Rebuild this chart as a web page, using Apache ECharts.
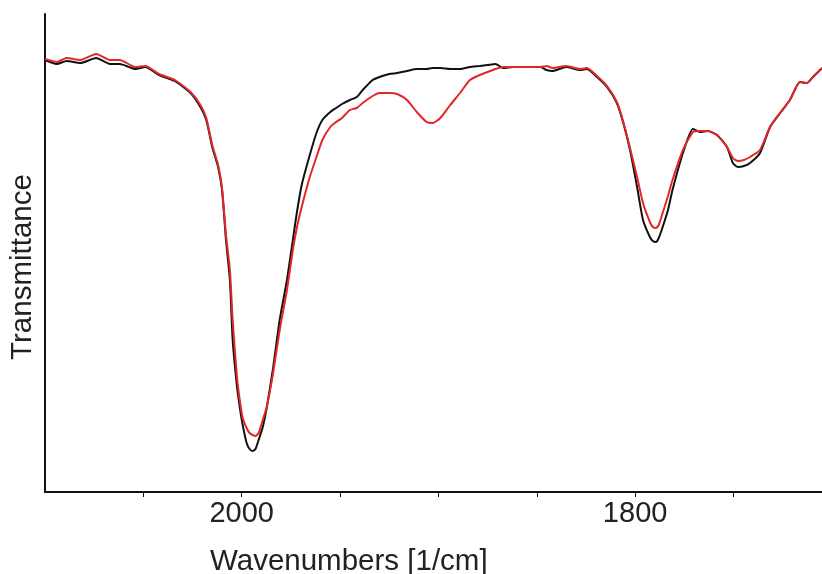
<!DOCTYPE html>
<html>
<head>
<meta charset="utf-8">
<style>
  html, body { margin: 0; padding: 0; background: #fff; }
  #chart { width: 822px; height: 574px; }
</style>
<script src="https://cdn.jsdelivr.net/npm/echarts@6/dist/echarts.min.js"></script>
</head>
<body>
<div id="chart"></div>
<script>
  // wavenumbers [1/cm]
  var wavenumbers = [2100, 2094, 2089, 2082, 2074, 2067, 2062, 2054, 2049, 2042, 2034, 2026, 2021, 2018, 2015, 2012, 2010, 2008, 2006, 2004.6, 2002.5, 2001, 1999.5, 1997.5, 1996, 1994.4, 1993, 1991.4, 1989.3, 1987.3, 1984.2, 1980.7, 1977, 1974, 1972, 1969.5, 1965.4, 1962, 1959, 1955, 1952, 1949, 1945, 1941.5, 1938.5, 1933.4, 1930, 1925, 1921, 1916, 1911, 1906, 1903, 1899, 1894, 1889, 1884, 1879, 1875, 1871, 1867, 1862, 1855, 1848, 1845, 1842, 1835, 1828, 1824.5, 1819.4, 1814.3, 1809.3, 1806, 1802.6, 1799, 1796, 1792.5, 1791, 1789.4, 1788, 1786, 1783.3, 1781, 1775.7, 1770.6, 1767, 1763, 1758.4, 1753.3, 1750.3, 1747.7, 1744.7, 1741.6, 1736.5, 1731.4, 1726.3, 1721.3, 1716.2, 1712.6, 1709.6, 1705];

  // transmittance (arbitrary units)
  var blackT = [432, 428, 431, 429, 434, 428, 428, 423, 425, 417, 411, 399, 385, 372, 345, 325, 302, 252, 212, 152, 107, 85, 67, 49, 43, 41, 43, 52, 65, 84, 122, 172, 212, 252, 279, 307, 337, 359, 372, 380, 384, 388, 392, 395, 402, 412, 415, 418, 419, 421, 423, 423, 424, 424, 423, 423, 425, 426, 427, 428, 424, 425, 425, 425, 422, 421, 425, 422, 423, 415, 405, 389, 369, 342, 305, 272, 255, 251, 250, 254, 265, 282, 302, 339, 363, 360, 361, 357, 345, 329, 325, 326, 329, 339, 365, 379, 392, 410, 409, 415, 424];
  var redT = [433, 430, 434, 432, 438, 432, 432, 425, 426, 418, 412, 400, 387, 374, 347, 327, 304, 257, 222, 172, 117, 92, 74, 64, 59, 57, 56, 59, 72, 85, 117, 162, 202, 242, 264, 285, 315, 335, 352, 365, 370, 374, 382, 384, 389, 396, 399, 399, 398, 392, 380, 370, 369, 374, 387, 399, 412, 417, 420, 423, 425, 425, 425, 425, 426, 424, 426, 423, 424, 416, 406, 390, 370, 344, 315, 289, 270, 265, 264, 267, 279, 296, 312, 342, 360, 361, 361, 357, 345, 334, 331, 332, 335, 342, 365, 379, 392, 410, 409, 415, 424];

  var tickValues = [1750, 1800, 1850, 1900, 1950, 2000, 2050];
  var labelValues = [1800, 2000];

  function pairs(xs, ys) {
    return xs.map(function (x, i) { return [x, ys[i]]; });
  }

  var myChart = echarts.init(document.getElementById('chart'));
  var option = {
    animation: false,
    grid: { left: 45, right: 0, top: 14, bottom: 82 },
    xAxis: {
      type: 'value',
      inverse: true,
      min: 1705,
      max: 2100,
      axisLine: { lineStyle: { color: '#111', width: 2 } },
      axisTick: { show: true, length: 5, lineStyle: { color: '#111', width: 1 }, customValues: tickValues },
      axisLabel: {
        color: '#222', fontSize: 29, fontFamily: 'Liberation Sans', margin: 7,
        customValues: labelValues,
        formatter: function (v) { return String(v); }
      },
      splitLine: { show: false }
    },
    yAxis: {
      type: 'value',
      min: 0,
      max: 478,
      axisLine: { show: true, lineStyle: { color: '#111', width: 2 } },
      axisTick: { show: false },
      axisLabel: { show: false },
      splitLine: { show: false }
    },
    graphic: [
      {
        type: 'text', left: 210, top: 547,
        style: { text: 'Wavenumbers [1/cm]', fontSize: 29.5, fontFamily: 'Liberation Sans', fill: '#222' }
      },
      {
        type: 'text', x: 23, y: 267, rotation: Math.PI / 2,
        style: { text: 'Transmittance', fontSize: 29.5, fontFamily: 'Liberation Sans', fill: '#222', align: 'center', verticalAlign: 'middle' }
      }
    ],
    series: [
      {
        type: 'line', data: pairs(wavenumbers, blackT), showSymbol: false, smooth: 0.2,
        lineStyle: { color: '#111', width: 2 }
      },
      {
        type: 'line', data: pairs(wavenumbers, redT), showSymbol: false, smooth: 0.2,
        lineStyle: { color: '#e3262b', width: 2 }
      }
    ]
  };
  myChart.setOption(option);
</script>
</body>
</html>
